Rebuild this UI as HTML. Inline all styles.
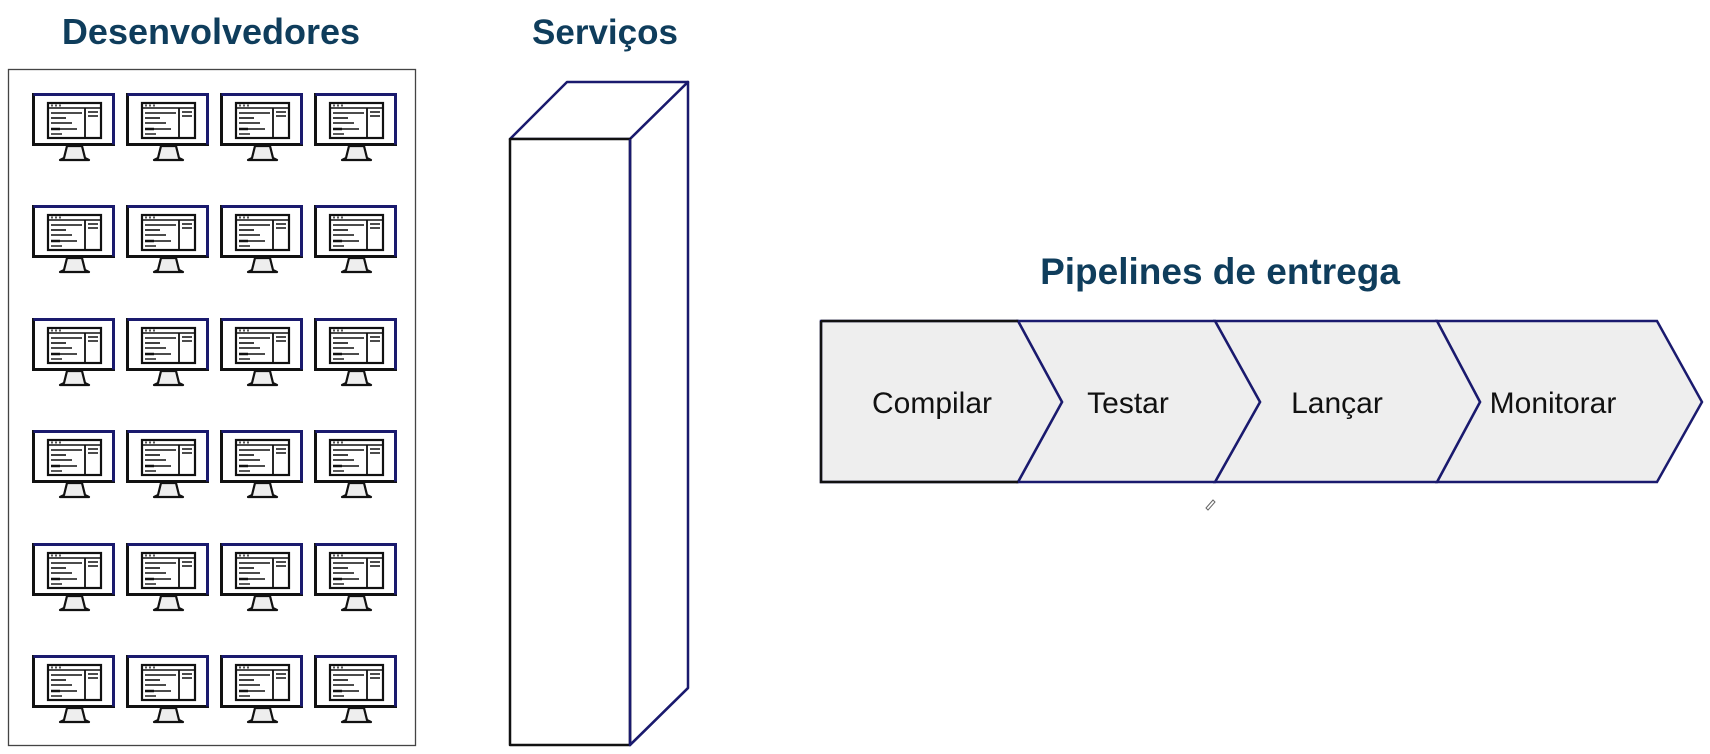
<!DOCTYPE html>
<html><head><meta charset="utf-8"><style>
html,body{margin:0;padding:0;background:#fff;}
svg{display:block;}
.t{font-family:"Liberation Sans",sans-serif;font-weight:bold;fill:#0f3d5c;}
.p{font-family:"Liberation Sans",sans-serif;fill:#111;font-size:30px;}
</style></head><body>
<svg width="1710" height="754" viewBox="0 0 1710 754" xmlns="http://www.w3.org/2000/svg">
<defs>
<g id="m">
  <rect x="1.5" y="1.5" width="80" height="50" fill="#fff" stroke="#111" stroke-width="3"/>
  <path d="M1.5 1.5 H81.5 V51.5" fill="none" stroke="#1a1a6e" stroke-width="3"/>
  <rect x="16" y="10" width="53" height="35" fill="#fff" stroke="#111" stroke-width="2.2"/>
  <line x1="16" y1="15" x2="69" y2="15" stroke="#111" stroke-width="1.5"/>
  <line x1="53" y1="15" x2="53" y2="45" stroke="#111" stroke-width="1.8"/>
  <rect x="19" y="11.5" width="2" height="2" fill="#555"/><rect x="23" y="11.5" width="2" height="2" fill="#555"/><rect x="27" y="11.5" width="2" height="2" fill="#555"/>
  <line x1="19" y1="20" x2="50" y2="20" stroke="#111" stroke-width="1.6"/>
  <line x1="19" y1="25" x2="34" y2="25" stroke="#111" stroke-width="1.6"/>
  <line x1="19" y1="30" x2="40" y2="30" stroke="#111" stroke-width="1.6"/>
  <line x1="19" y1="36" x2="28" y2="36" stroke="#111" stroke-width="2.5"/>
  <line x1="28" y1="36" x2="45" y2="36" stroke="#111" stroke-width="1.6"/>
  <line x1="19" y1="41" x2="30" y2="41" stroke="#111" stroke-width="1.4"/>
  <line x1="56" y1="19" x2="66" y2="19" stroke="#111" stroke-width="1.5"/>
  <line x1="56" y1="23" x2="66" y2="23" stroke="#111" stroke-width="1.5"/>
  <path d="M35 53 L50 53 L53 65 L57 67 L28 67 L32 65 Z" fill="#eee" stroke="#111" stroke-width="2.2" stroke-linejoin="round"/>
</g>
</defs>
<text class="t" x="211" y="44" text-anchor="middle" font-size="36">Desenvolvedores</text>
<text class="t" x="605" y="44" text-anchor="middle" font-size="35">Serviços</text>
<text class="t" x="1220" y="284" text-anchor="middle" font-size="37">Pipelines de entrega</text>

<rect x="8.5" y="69.5" width="407" height="676" fill="#fff" stroke="#444" stroke-width="1.3"/>
<g>
<use href="#m" x="32" y="93"/><use href="#m" x="126" y="93"/><use href="#m" x="220" y="93"/><use href="#m" x="314" y="93"/>
<use href="#m" x="32" y="205"/><use href="#m" x="126" y="205"/><use href="#m" x="220" y="205"/><use href="#m" x="314" y="205"/>
<use href="#m" x="32" y="318"/><use href="#m" x="126" y="318"/><use href="#m" x="220" y="318"/><use href="#m" x="314" y="318"/>
<use href="#m" x="32" y="430"/><use href="#m" x="126" y="430"/><use href="#m" x="220" y="430"/><use href="#m" x="314" y="430"/>
<use href="#m" x="32" y="543"/><use href="#m" x="126" y="543"/><use href="#m" x="220" y="543"/><use href="#m" x="314" y="543"/>
<use href="#m" x="32" y="655"/><use href="#m" x="126" y="655"/><use href="#m" x="220" y="655"/><use href="#m" x="314" y="655"/>
</g>

<g fill="#fff" stroke-width="2.5" stroke-linejoin="round">
<path d="M510 139 L567 82 L688 82 L630 139 Z" stroke="#1a1a6e"/>
<path d="M630 139 L688 82 L688 688 L630 745 Z" stroke="#1a1a6e"/>
<rect x="510" y="139" width="120" height="606" stroke="#111"/>
<path d="M630 139 V745 L688 688" fill="none" stroke="#1a1a6e"/>
</g>

<g fill="#eeeeee" stroke="#1a1a6e" stroke-width="2.5" stroke-linejoin="miter">
<path d="M1437 321 L1657 321 L1702 402 L1657 482 L1437 482 L1480 402 Z"/>
<path d="M1215 321 L1437 321 L1480 402 L1437 482 L1215 482 L1260 402 Z"/>
<path d="M1018 321 L1215 321 L1260 402 L1215 482 L1018 482 L1062 402 Z"/>
<path d="M821 321 L1018 321 L1062 402 L1018 482 L821 482 Z"/>
</g>
<path d="M821 321 L1018 321 M821 321 V482 H1018" fill="none" stroke="#111" stroke-width="2.5"/>
<g class="p" text-anchor="middle">
<text x="932" y="413">Compilar</text>
<text x="1128" y="413">Testar</text>
<text x="1337" y="413">Lançar</text>
<text x="1553" y="413">Monitorar</text>
</g>
<path d="M1206 508 L1213 500 L1215 502 L1208 510 Z" fill="none" stroke="#666" stroke-width="1"/>
</svg>
</body></html>
